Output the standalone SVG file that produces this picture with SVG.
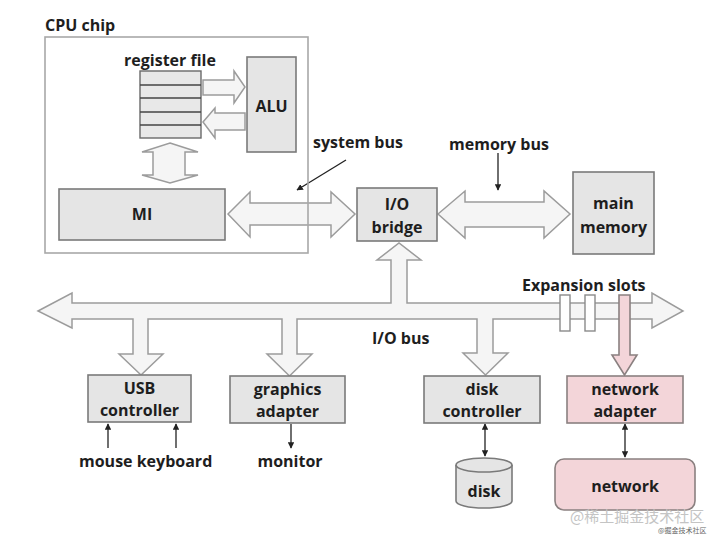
<svg xmlns="http://www.w3.org/2000/svg" width="720" height="540" viewBox="0 0 720 540">
<defs>
<style>
.t{font-family:"Open Sans","Liberation Sans",sans-serif;font-weight:bold;fill:#1e1e1e;font-size:16px}
.c{text-anchor:middle}
.box{fill:#e5e5e5;stroke:#7a7a7a;stroke-width:1.6}
.pink{fill:#f3d5d9;stroke:#8a8080;stroke-width:1.6}
.arr{fill:#f5f5f5;stroke:#9c9c9c;stroke-width:1.5;stroke-linejoin:miter}
.ptr{stroke:#222;stroke-width:1.3;fill:none}
</style>
<marker id="ah" viewBox="0 0 10 10" refX="9" refY="5" markerWidth="5" markerHeight="5" orient="auto-start-reverse">
<path d="M0,0 L10,5 L0,10 z" fill="#222"/>
</marker>
</defs>
<rect width="720" height="540" fill="#ffffff"/>

<g id="connectors">
<!-- system bus -->
<polygon class="arr" points="228,214 250,192 250,203 331,203 331,192 355,214 331,237 331,225 250,225 250,237"/>
<!-- memory bus -->
<polygon class="arr" points="438,214 465,191 465,202 544,202 544,191 570,214 544,238 544,227 465,227 465,238"/>
<!-- register file <-> ALU -->
<polygon class="arr" points="203,80 234,80 234,71 245,87 234,103 234,95 203,95"/>
<polygon class="arr" points="203,122 215,108 215,113 245,113 245,130 215,130 215,138"/>
<!-- register file <-> MI -->
<polygon class="arr" points="170,143 198,152 185,152 185,175 198,175 170,183 142,175 153,175 153,152 142,152"/>
<!-- I/O bus with branches -->
<polygon class="arr" points="38,311 72,293 72,303 391,303 391,260 377,260 399,243 421,260 407,260 407,303 652,303 652,293 683,311 652,328 652,319 493,319 493,353 508,353 485.5,375 463,353 477,353 477,319 297,319 297,354 312,354 289.5,376 267,354 282,354 282,319 148,319 148,354 163,354 141,375 119,354 133,354 133,319 72,319 72,328"/>
<!-- expansion slots -->
<rect x="560" y="295" width="10" height="36" fill="#ffffff" stroke="#8a8a8a" stroke-width="1.4"/>
<rect x="585" y="295" width="10" height="36" fill="#ffffff" stroke="#8a8a8a" stroke-width="1.4"/>
<polygon class="pink" points="619,295 630,295 630,355 637,355 624.5,375 612,355 619,355"/>
<!-- pointers -->
<line class="ptr" x1="346" y1="160" x2="297" y2="190" marker-end="url(#ah)"/>
<line class="ptr" x1="498" y1="153" x2="498" y2="190" marker-end="url(#ah)"/>
<line class="ptr" x1="108" y1="448" x2="108" y2="424" marker-end="url(#ah)"/>
<line class="ptr" x1="176" y1="448" x2="176" y2="424" marker-end="url(#ah)"/>
<line class="ptr" x1="291" y1="424" x2="291" y2="448" marker-end="url(#ah)"/>
<line class="ptr" x1="485" y1="424" x2="485" y2="456" marker-start="url(#ah)" marker-end="url(#ah)"/>
<line class="ptr" x1="625" y1="424" x2="625" y2="457" marker-start="url(#ah)" marker-end="url(#ah)"/>
</g>

<g id="cpu-chip">
<rect x="45" y="37" width="263" height="216" fill="none" stroke="#a8a8a8" stroke-width="1.6"/>
<text class="t" x="45" y="31" font-size="15">CPU chip</text>
</g>

<g id="register-file">
<rect x="140" y="71" width="61" height="67" fill="#e8e8e8" stroke="#6a6a6a" stroke-width="1.4"/>
<line x1="140" y1="85" x2="201" y2="85" stroke="#444" stroke-width="1.4"/>
<line x1="140" y1="98" x2="201" y2="98" stroke="#444" stroke-width="1.4"/>
<line x1="140" y1="112" x2="201" y2="112" stroke="#444" stroke-width="1.4"/>
<line x1="140" y1="125" x2="201" y2="125" stroke="#444" stroke-width="1.4"/>
<text class="t c" x="170" y="66" font-size="15">register file</text>
</g>

<g id="alu">
<rect class="box" x="247" y="57" width="49" height="95"/>
<text class="t c" x="271.5" y="112">ALU</text>
</g>

<g id="mi">
<rect class="box" x="59" y="189" width="166" height="51"/>
<text class="t c" x="142" y="220">MI</text>
</g>

<g id="io-bridge">
<rect class="box" x="357" y="188" width="80" height="53"/>
<text class="t c" x="397" y="210">I/O</text>
<text class="t c" x="397" y="233">bridge</text>
</g>

<g id="main-memory">
<rect class="box" x="573" y="172" width="81" height="82"/>
<text class="t c" x="613.5" y="209">main</text>
<text class="t c" x="613.5" y="233">memory</text>
</g>

<g id="labels">
<text class="t" x="313" y="148">system bus</text>
<text class="t" x="449" y="150">memory bus</text>
<text class="t" x="522" y="291">Expansion slots</text>
<text class="t" x="372" y="344">I/O bus</text>
</g>

<g id="usb-controller">
<rect class="box" x="88" y="375" width="103" height="47"/>
<text class="t c" x="139.5" y="394">USB</text>
<text class="t c" x="139.5" y="416">controller</text>
<text class="t" x="79" y="467">mouse keyboard</text>
</g>

<g id="graphics-adapter">
<rect class="box" x="230" y="376" width="115" height="47"/>
<text class="t c" x="287.5" y="395">graphics</text>
<text class="t c" x="287.5" y="417">adapter</text>
<text class="t c" x="290" y="467">monitor</text>
</g>

<g id="disk-controller">
<rect class="box" x="424" y="376" width="116" height="47"/>
<text class="t c" x="482" y="395">disk</text>
<text class="t c" x="482" y="417">controller</text>
</g>

<g id="disk">
<path d="M456,465 L456,501 A28,7 0 0 0 512,501 L512,465" class="box"/>
<ellipse cx="484" cy="465" rx="28" ry="7" class="box"/>
<text class="t c" x="484" y="497">disk</text>
</g>

<g id="network-adapter">
<rect class="pink" x="567" y="376" width="116" height="47"/>
<text class="t c" x="625" y="395">network</text>
<text class="t c" x="625" y="417">adapter</text>
</g>

<g id="network">
<rect class="pink" x="555" y="459" width="140" height="51" rx="9"/>
<text class="t c" x="625" y="492">network</text>
</g>

<g id="watermark">
<text x="570" y="522" font-family="'Noto Sans CJK SC',sans-serif" font-size="15" fill="#c4c4c4">@稀土掘金技术社区</text>
<text x="658" y="533" font-family="'Noto Sans CJK SC',sans-serif" font-size="7" fill="#666">@掘金技术社区</text>
</g>
</svg>
